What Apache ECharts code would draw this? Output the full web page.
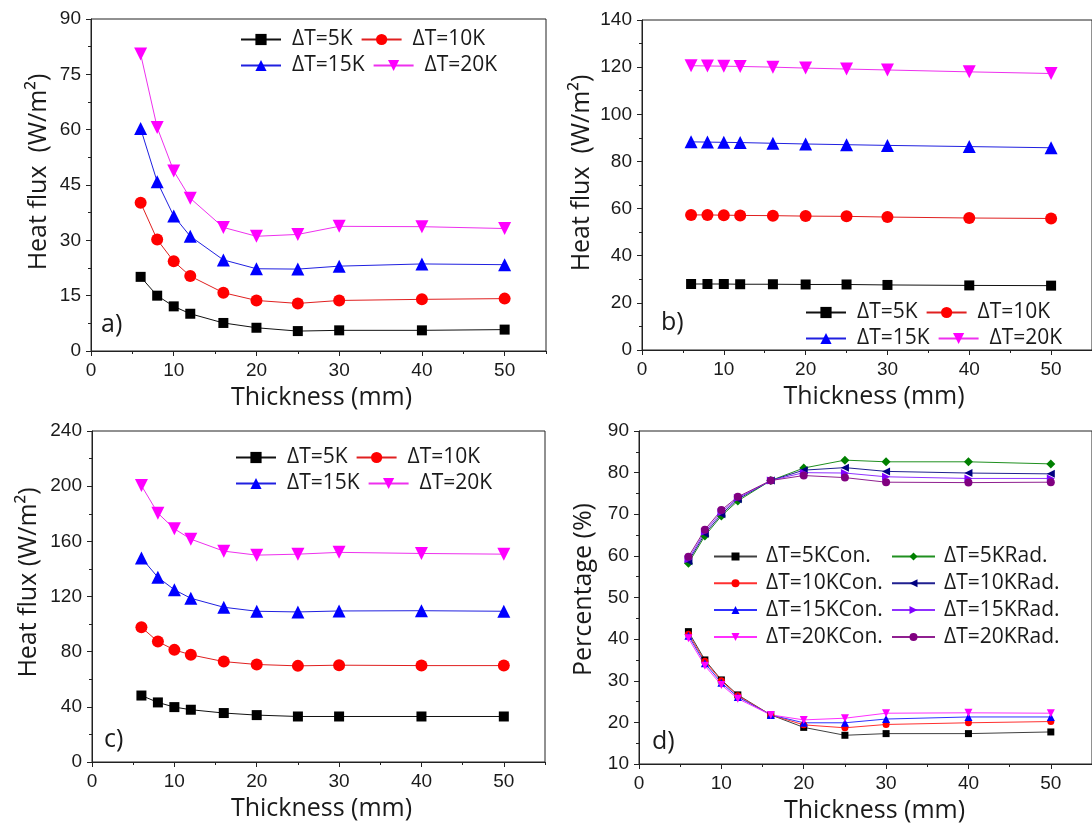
<!DOCTYPE html>
<html><head><meta charset="utf-8">
<script src="https://cdn.jsdelivr.net/npm/echarts@6/dist/echarts.min.js"></script>
<style>html,body{margin:0;padding:0;background:#fff}#c{width:1092px;height:829px}</style>
</head><body><div id="c"></div>
<script>
// ---------- data ----------
const thickness = [6, 8, 10, 12, 16, 20, 25, 30, 40, 50];
const names = ['ΔT=5K', 'ΔT=10K', 'ΔT=15K', 'ΔT=20K'];
// panel a
const a5  = [20.1, 15.0, 12.1, 10.1, 7.6, 6.3, 5.4, 5.6, 5.6, 5.8];
const a10 = [40.2, 30.2, 24.3, 20.3, 15.8, 13.7, 12.9, 13.7, 14.0, 14.2];
const a15 = [60.3, 45.9, 36.6, 31.1, 24.7, 22.3, 22.2, 23.0, 23.6, 23.4];
const a20 = [80.5, 60.6, 48.8, 41.4, 33.5, 31.1, 31.6, 33.8, 33.7, 33.2];
// panel b
const b5  = [28.0, 28.0, 28.0, 27.9, 27.9, 27.8, 27.8, 27.6, 27.4, 27.3];
const b10 = [57.3, 57.3, 57.2, 57.1, 57.0, 56.8, 56.7, 56.4, 56.0, 55.8];
const b15 = [88.3, 88.2, 88.1, 88.0, 87.7, 87.4, 87.1, 86.8, 86.3, 85.8];
const b20 = [120.6, 120.5, 120.4, 120.3, 120.0, 119.6, 119.2, 118.8, 118.0, 117.3];
// panel c
const c5  = [48.2, 43.2, 39.8, 37.9, 35.5, 34.0, 33.0, 33.0, 33.0, 33.0];
const c10 = [97.7, 87.3, 81.3, 77.7, 72.8, 70.7, 69.7, 70.2, 69.9, 69.9];
const c15 = [148.0, 133.9, 124.9, 118.7, 112.2, 109.3, 108.8, 109.5, 109.7, 109.3];
const c20 = [200.4, 180.4, 169.1, 161.6, 152.9, 150.0, 150.7, 152.0, 151.2, 150.7];
// panel d
const dConNames = ['ΔT=5KCon.', 'ΔT=10KCon.', 'ΔT=15KCon.', 'ΔT=20KCon.'];
const dRadNames = ['ΔT=5KRad.', 'ΔT=10KRad.', 'ΔT=15KRad.', 'ΔT=20KRad.'];
const d5Con  = [41.8, 35.0, 30.2, 26.6, 21.8, 18.8, 16.9, 17.3, 17.3, 17.7];
const d10Con = [41.2, 34.7, 30.0, 26.4, 21.8, 19.4, 18.7, 19.5, 19.9, 20.2];
const d15Con = [40.8, 34.2, 29.5, 26.1, 21.8, 19.9, 19.9, 20.8, 21.3, 21.3];
const d20Con = [40.2, 33.6, 29.0, 25.7, 21.8, 20.6, 21.0, 22.2, 22.3, 22.2];
const d5Rad  = [58.2, 64.8, 69.6, 73.2, 78.1, 81.1, 83.0, 82.6, 82.6, 82.1];
const d10Rad = [58.7, 65.3, 70.0, 73.6, 78.1, 80.6, 81.2, 80.3, 79.9, 79.7];
const d15Rad = [59.2, 65.8, 70.5, 73.9, 78.1, 80.0, 79.9, 79.0, 78.6, 78.6];
const d20Rad = [59.8, 66.3, 71.0, 74.2, 78.1, 79.3, 78.8, 77.7, 77.6, 77.7];

// ---------- styles ----------
const TXT = '#1a1a1a';
const AX = '#222';
const baseStyles = [
  {color: '#000000', line: '#111111', symbol: 'rect', size: 10, rotate: 0},
  {color: '#ff0000', line: '#e02020', symbol: 'circle', size: 12, rotate: 0},
  {color: '#0000ff', line: '#2020e0', symbol: 'triangle', size: 13, rotate: 0},
  {color: '#ff00ff', line: '#ee30ee', symbol: 'triangle', size: 13, rotate: 180}
];
const conStyles = [
  {color: '#000000', line: '#404040', symbol: 'rect', size: 7, rotate: 0},
  {color: '#ff0000', line: '#ff3030', symbol: 'circle', size: 7, rotate: 0},
  {color: '#0000ff', line: '#3030ff', symbol: 'triangle', size: 8, rotate: 0},
  {color: '#ff00ff', line: '#ff30ff', symbol: 'triangle', size: 8, rotate: 180}
];
const radStyles = [
  {color: '#008000', line: '#209020', symbol: 'diamond', size: 9, rotate: 0},
  {color: '#000080', line: '#202090', symbol: 'triangle', size: 8, rotate: 90},
  {color: '#8000ff', line: '#9030ff', symbol: 'triangle', size: 8, rotate: -90},
  {color: '#800080', line: '#902090', symbol: 'circle', size: 8, rotate: 0}
];

const grids = [
  {left: 91, top: 19, width: 455, height: 332},
  {left: 642, top: 20, width: 455, height: 330},
  {left: 92, top: 431, width: 453, height: 331},
  {left: 639, top: 431, width: 457, height: 333}
].map(g => Object.assign(g, {show: true, borderColor: AX, borderWidth: 1, backgroundColor: 'transparent'}));

const yDefs = [
  {min: 0, max: 90, interval: 15, name: 'Heat flux  (W/m²)', gap: 40, shift: 26},
  {min: 0, max: 140, interval: 20, name: 'Heat flux  (W/m²)', gap: 48, shift: 24},
  {min: 0, max: 240, interval: 40, name: 'Heat flux (W/m²)', gap: 51, shift: 28},
  {min: 10, max: 90, interval: 10, name: 'Percentage (%)', gap: 43, shift: 16}
];
const xNameShift = [6, 14, 6, 18];

const xAxes = [], yAxes = [];
for (let i = 0; i < 4; i++) {
  xAxes.push({
    type: 'value', gridIndex: i, min: 0, max: 55, interval: 10,
    name: 'Thickness (mm)', nameLocation: 'middle', nameGap: 34,
    nameTextStyle: {fontFamily: 'Open Sans', fontSize: 25, color: TXT, padding: [0, 0, 0, xNameShift[i]]},
    axisLine: {show: true, lineStyle: {color: AX, width: 1}},
    axisTick: {show: true, inside: false, length: 5, lineStyle: {color: AX}},
    minorTick: {show: false},
    splitLine: {show: false},
    axisLabel: {show: true, margin: 10, fontFamily: 'Liberation Sans', fontSize: 19, color: TXT, showMaxLabel: false}
  });
}
for (let i = 0; i < 4; i++) {
  // overlay axis for minor ticks every 5
  xAxes.push({
    type: 'value', gridIndex: i, min: 0, max: 55, interval: 5, position: 'bottom',
    axisLine: {show: false}, axisLabel: {show: false}, splitLine: {show: false},
    axisTick: {show: true, inside: false, length: 3, lineStyle: {color: AX}}
  });
}
yDefs.forEach((d, i) => {
  yAxes.push({
    type: 'value', gridIndex: i, min: d.min, max: d.max, interval: d.interval,
    name: d.name, nameLocation: 'middle', nameGap: d.gap,
    nameTextStyle: {fontFamily: 'Open Sans', fontSize: 25, color: TXT, padding: [0, 0, 0, d.shift]},
    axisLine: {show: true, lineStyle: {color: AX, width: 1}},
    axisTick: {show: true, inside: false, length: 5, lineStyle: {color: AX}},
    minorTick: {show: true, splitNumber: 2, length: 3, lineStyle: {color: AX}},
    splitLine: {show: false},
    axisLabel: {margin: 10, fontFamily: 'Liberation Sans', fontSize: 19, color: TXT}
  });
});

function mkSeries(name, vals, st, gi) {
  return {
    type: 'line', name: name, xAxisIndex: gi, yAxisIndex: gi,
    data: thickness.map((x, k) => [x, vals[k]]),
    symbol: st.symbol, symbolSize: st.size, symbolRotate: st.rotate,
    showAllSymbol: true, smooth: false,
    lineStyle: {color: st.line, width: 1},
    itemStyle: {color: st.color, borderWidth: 0},
    emphasis: {disabled: true}, z: 3
  };
}
const series = [];
[[a5, a10, a15, a20], [b5, b10, b15, b20], [c5, c10, c15, c20]].forEach((set, gi) => {
  set.forEach((vals, k) => series.push(mkSeries(names[k], vals, baseStyles[k], gi)));
});
[d5Con, d10Con, d15Con, d20Con].forEach((v, k) => series.push(mkSeries(dConNames[k], v, conStyles[k], 3)));
[d5Rad, d10Rad, d15Rad, d20Rad].forEach((v, k) => series.push(mkSeries(dRadNames[k], v, radStyles[k], 3)));

function legendRow(data, left, centerY) {
  return {
    data: data, left: left, top: centerY - 10, orient: 'horizontal',
    itemWidth: 40, itemHeight: 14, itemGap: 8, padding: 0, selectedMode: false,
    textStyle: {fontFamily: 'Open Sans', fontSize: 21, color: TXT, lineHeight: 20, padding: [0, 0, 0, 6]}
  };
}
function legendCol(data, left, topCenter) {
  return {
    data: data, left: left, top: topCenter - 10, orient: 'vertical',
    itemWidth: 43, itemHeight: 10, itemGap: 5.8, padding: 0, selectedMode: false,
    textStyle: {fontFamily: 'Open Sans', fontSize: 21, color: TXT, lineHeight: 20, padding: [0, 0, 0, 4]}
  };
}
const legends = [
  legendRow([names[0], names[1]], 240, 39),
  legendRow([names[2], names[3]], 240, 65),
  legendRow([names[0], names[1]], 805, 312),
  legendRow([names[2], names[3]], 805, 338),
  legendRow([names[0], names[1]], 235, 457),
  legendRow([names[2], names[3]], 235, 483),
  legendCol(dConNames, 713, 556),
  legendCol(dRadNames, 891, 556)
];

const panelLabel = (t, x, y) => ({type: 'text', left: x, top: y - 15,
  style: {text: t, fontFamily: 'Open Sans', fontSize: 25, fill: TXT}});

const chart = echarts.init(document.getElementById('c'), null, {renderer: 'canvas'});
chart.setOption({
  animation: false,
  backgroundColor: '#ffffff',
  grid: grids,
  xAxis: xAxes,
  yAxis: yAxes,
  legend: legends,
  series: series,
  graphic: [
    panelLabel('a)', 101, 327),
    panelLabel('b)', 661, 325),
    panelLabel('c)', 104, 742),
    panelLabel('d)', 652, 744)
  ]
});
</script></body></html>
